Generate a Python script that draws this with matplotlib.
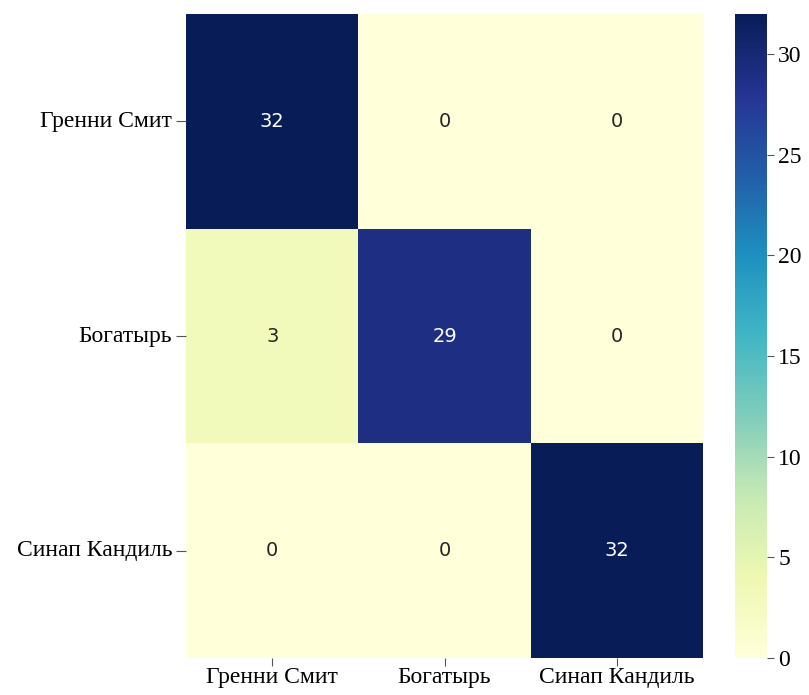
import numpy as np
import matplotlib.pyplot as plt
import seaborn as sns

classes = ['Гренни Смит', 'Богатырь', 'Синап Кандиль']
cm = np.array([[32, 0, 0],
               [3, 29, 0],
               [0, 0, 32]])
cbar_ticks = [0, 5, 10, 15, 20, 25, 30]

fig = plt.figure(figsize=(8.09, 6.95), dpi=100)
ax = fig.add_axes([0.23, 0.053, 0.639, 0.927])
cax = fig.add_axes([0.9085, 0.053, 0.0396, 0.927])

sns.heatmap(cm, annot=True, fmt='d', cmap='YlGnBu', vmin=0, vmax=32,
            ax=ax, cbar_ax=cax, annot_kws={'fontsize': 14})

serif = {'family': 'Liberation Serif', 'size': 17}
ax.set_xticklabels(classes, fontdict=serif, rotation=0)
ax.set_yticklabels(classes, fontdict=serif, rotation=0)
ax.tick_params(axis='y', length=7, pad=3, color='#555555')
ax.tick_params(axis='x', length=6, pad=0.5, color='#555555')

cax.set_yticks(cbar_ticks)
cax.set_yticklabels([str(t) for t in cbar_ticks], fontdict=serif)
cax.tick_params(length=5, pad=3, color='#555555')

fig.savefig('out.png', dpi=100)
